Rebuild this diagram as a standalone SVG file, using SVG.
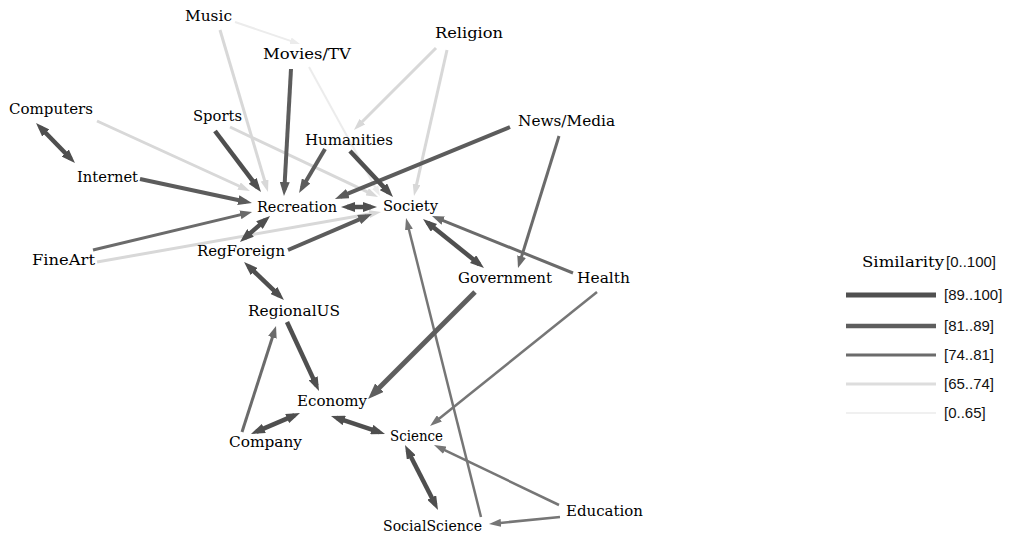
<svg xmlns="http://www.w3.org/2000/svg" width="1018" height="535" viewBox="0 0 1018 535">
<style>
.lbl{font-family:"DejaVu Serif","Liberation Serif",serif;font-size:15px;fill:#000}
.leg{font-family:"Liberation Sans",Arial,sans-serif;font-size:15px;fill:#111}
.a{stroke:#4f4f4f;stroke-width:4.5;fill:none;marker-end:url(#mA)}
.aa{stroke:#4f4f4f;stroke-width:4.5;fill:none;marker-end:url(#mA);marker-start:url(#mA)}
.b{stroke:#5c5c5c;stroke-width:4;fill:none;marker-end:url(#mB)}
.b5{stroke:#5e5e5e;stroke-width:5;fill:none;marker-end:url(#mB5)}
.c{stroke:#6b6b6b;stroke-width:3;fill:none;marker-end:url(#mC)}
.d{stroke:#767676;stroke-width:2.5;fill:none;marker-end:url(#mD)}
.e{stroke:#d8d8d8;stroke-width:3;fill:none;marker-end:url(#mE)}
.f{stroke:#ececec;stroke-width:2;fill:none;marker-end:url(#mF)}
</style>
<defs>
<marker id="mA" markerUnits="userSpaceOnUse" markerWidth="14" markerHeight="10" refX="8" refY="5" orient="auto-start-reverse"><path d="M0,0 L14,5 L0,10 z" fill="#4f4f4f"/></marker>
<marker id="mB" markerUnits="userSpaceOnUse" markerWidth="14" markerHeight="10" refX="8" refY="5" orient="auto-start-reverse"><path d="M0,0 L14,5 L0,10 z" fill="#5c5c5c"/></marker>
<marker id="mB5" markerUnits="userSpaceOnUse" markerWidth="16" markerHeight="12" refX="9" refY="6" orient="auto-start-reverse"><path d="M0,0 L16,6 L0,12 z" fill="#5e5e5e"/></marker>
<marker id="mC" markerUnits="userSpaceOnUse" markerWidth="12" markerHeight="9" refX="6" refY="4.5" orient="auto-start-reverse"><path d="M0,0 L12,4.5 L0,9 z" fill="#6b6b6b"/></marker>
<marker id="mD" markerUnits="userSpaceOnUse" markerWidth="12" markerHeight="8" refX="6" refY="4" orient="auto-start-reverse"><path d="M0,0 L12,4 L0,8 z" fill="#767676"/></marker>
<marker id="mE" markerUnits="userSpaceOnUse" markerWidth="12" markerHeight="8" refX="6" refY="4" orient="auto-start-reverse"><path d="M0,0 L12,4 L0,8 z" fill="#d8d8d8"/></marker>
<marker id="mF" markerUnits="userSpaceOnUse" markerWidth="10" markerHeight="7" refX="4" refY="3.5" orient="auto-start-reverse"><path d="M0,0 L10,3.5 L0,7 z" fill="#ececec"/></marker>
</defs>
<rect width="1018" height="535" fill="#ffffff"/>
<g id="connectors">
<line class="f" x1="235" y1="22" x2="294.3" y2="42.1"/>
<line class="f" x1="309" y1="67" x2="377.1" y2="190.7"/>
<line class="e" x1="97" y1="121" x2="244.5" y2="188.5"/>
<line class="e" x1="220" y1="30" x2="266.3" y2="186.2"/>
<line class="e" x1="230" y1="127" x2="372.6" y2="194.4"/>
<line class="e" x1="436" y1="48" x2="358.2" y2="125.8"/>
<line class="e" x1="447" y1="50" x2="415.3" y2="190.1"/>
<line class="e" x1="97" y1="262" x2="375.1" y2="213"/>
<line class="d" x1="597" y1="292" x2="434.7" y2="422.2"/>
<line class="d" x1="559" y1="505" x2="439.4" y2="447.6"/>
<line class="d" x1="560" y1="517" x2="495" y2="523.4"/>
<line class="d" x1="481" y1="517" x2="407.5" y2="223.8"/>
<line class="c" x1="559" y1="136" x2="519.8" y2="262.3"/>
<line class="c" x1="573" y1="273" x2="437.6" y2="218.3"/>
<line class="c" x1="93" y1="250" x2="246.2" y2="213.4"/>
<line class="c" x1="242" y1="432" x2="274.2" y2="331.7"/>
<line class="b" x1="291" y1="69" x2="284.3" y2="190"/>
<line class="b" x1="325" y1="149" x2="302.1" y2="187.8"/>
<line class="b" x1="510" y1="127" x2="340.5" y2="196.7"/>
<line class="b" x1="288" y1="250" x2="366.5" y2="216.4"/>
<line class="b" x1="140" y1="179" x2="246.1" y2="201.7"/>
<line class="b5" x1="475" y1="292" x2="373" y2="394"/>
<line class="a" x1="215" y1="131" x2="257.4" y2="187.2"/>
<line class="a" x1="350" y1="151" x2="388.9" y2="192.6"/>
<line class="a" x1="287" y1="322" x2="316.5" y2="385.6"/>
<line class="aa" x1="40.2" y1="127.3" x2="70.8" y2="158.7"/>
<line class="aa" x1="427.7" y1="222.8" x2="479.3" y2="264.2"/>
<line class="aa" x1="347" y1="207" x2="371" y2="207"/>
<line class="aa" x1="244.5" y1="238.1" x2="265.5" y2="219.9"/>
<line class="aa" x1="248.4" y1="266.1" x2="279.6" y2="295.9"/>
<line class="aa" x1="256.5" y1="431.6" x2="294.5" y2="415.4"/>
<line class="aa" x1="336.7" y1="417.9" x2="379.3" y2="432.1"/>
<line class="aa" x1="407.7" y1="450.4" x2="435.3" y2="504.6"/>
</g>
<g id="n-music"><text class="lbl" x="185" y="21" textLength="47" lengthAdjust="spacingAndGlyphs">Music</text></g>
<g id="n-movies"><text class="lbl" x="263" y="59" textLength="88" lengthAdjust="spacingAndGlyphs">Movies/TV</text></g>
<g id="n-religion"><text class="lbl" x="435" y="38" textLength="68" lengthAdjust="spacingAndGlyphs">Religion</text></g>
<g id="n-computers"><text class="lbl" x="9" y="114" textLength="84" lengthAdjust="spacingAndGlyphs">Computers</text></g>
<g id="n-sports"><text class="lbl" x="193" y="121" textLength="49" lengthAdjust="spacingAndGlyphs">Sports</text></g>
<g id="n-humanities"><text class="lbl" x="305" y="145" textLength="88" lengthAdjust="spacingAndGlyphs">Humanities</text></g>
<g id="n-news"><text class="lbl" x="518" y="126" textLength="97" lengthAdjust="spacingAndGlyphs">News/Media</text></g>
<g id="n-internet"><text class="lbl" x="77" y="182" textLength="61" lengthAdjust="spacingAndGlyphs">Internet</text></g>
<g id="n-recreation"><text class="lbl" x="257" y="212" textLength="80" lengthAdjust="spacingAndGlyphs">Recreation</text></g>
<g id="n-society"><text class="lbl" x="383" y="211" textLength="55" lengthAdjust="spacingAndGlyphs">Society</text></g>
<g id="n-fineart"><text class="lbl" x="32" y="265" textLength="63" lengthAdjust="spacingAndGlyphs">FineArt</text></g>
<g id="n-regforeign"><text class="lbl" x="197" y="256" textLength="88" lengthAdjust="spacingAndGlyphs">RegForeign</text></g>
<g id="n-government"><text class="lbl" x="458" y="283" textLength="94" lengthAdjust="spacingAndGlyphs">Government</text></g>
<g id="n-health"><text class="lbl" x="577" y="283" textLength="53" lengthAdjust="spacingAndGlyphs">Health</text></g>
<g id="n-regionalus"><text class="lbl" x="248" y="316" textLength="92" lengthAdjust="spacingAndGlyphs">RegionalUS</text></g>
<g id="n-economy"><text class="lbl" x="297" y="406" textLength="70" lengthAdjust="spacingAndGlyphs">Economy</text></g>
<g id="n-company"><text class="lbl" x="229" y="447" textLength="73" lengthAdjust="spacingAndGlyphs">Company</text></g>
<g id="n-science"><text class="lbl" x="390" y="441" textLength="53" lengthAdjust="spacingAndGlyphs">Science</text></g>
<g id="n-socialscience"><text class="lbl" x="383" y="531" textLength="99" lengthAdjust="spacingAndGlyphs">SocialScience</text></g>
<g id="n-education"><text class="lbl" x="566" y="516" textLength="77" lengthAdjust="spacingAndGlyphs">Education</text></g>
<g id="legend">
<text x="862" y="267"><tspan class="lbl" textLength="82" lengthAdjust="spacingAndGlyphs">Similarity</tspan><tspan class="leg" x="946">[0..100]</tspan></text>
<line x1="846" y1="295" x2="936" y2="295" stroke="#505050" stroke-width="5"/>
<line x1="846" y1="326" x2="936" y2="326" stroke="#5e5e5e" stroke-width="4.5"/>
<line x1="846" y1="355" x2="936" y2="355" stroke="#6b6b6b" stroke-width="3"/>
<line x1="846" y1="384" x2="936" y2="384" stroke="#dddddd" stroke-width="3"/>
<line x1="846" y1="413" x2="936" y2="413" stroke="#f0f0f0" stroke-width="2"/>
<text class="leg" x="944" y="300">[89..100]</text>
<text class="leg" x="944" y="331">[81..89]</text>
<text class="leg" x="944" y="360">[74..81]</text>
<text class="leg" x="944" y="389">[65..74]</text>
<text class="leg" x="944" y="418">[0..65]</text>
</g>
</svg>
